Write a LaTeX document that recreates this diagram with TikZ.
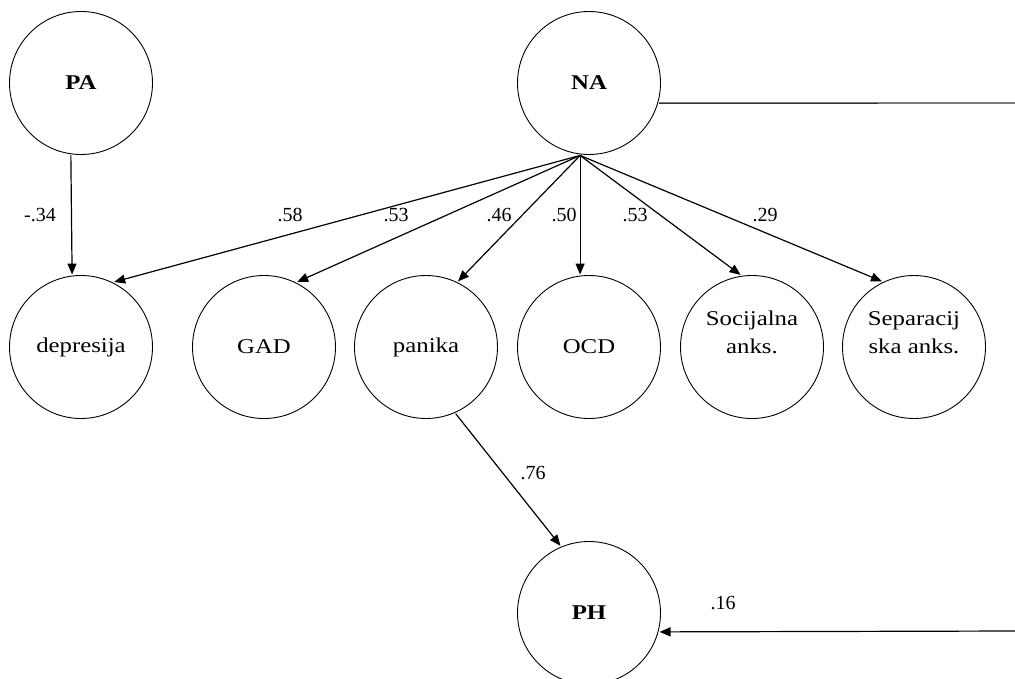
\documentclass[tikz,border=0pt]{standalone}
\usepackage{fontspec}
\setmainfont{Liberation Serif}
\usetikzlibrary{arrows.meta,calc}
\newcommand{\stretchtxt}[1]{\scalebox{1.18}[1]{#1}}
\begin{document}
\begin{tikzpicture}[x=1pt,y=-1pt,
  lat/.style={circle,draw,line width=0.9pt,minimum size=143pt,inner sep=0pt,outer sep=1.5pt,
    font=\fontsize{21}{28}\selectfont},
  txtlab/.style={font=\fontsize{21}{28}\selectfont,align=center,inner sep=0pt},
  arr/.style={line width=1.2pt,-{Triangle[length=11pt,width=9pt]}},
  plainline/.style={line width=1.4pt,draw=black!80},
  coef/.style={font=\fontsize{20}{24}\selectfont,inner sep=0pt}]
\useasboundingbox (0,0) rectangle (1015,678);

% latent / observed circles
\node[lat] (PA) at (81,83) {\stretchtxt{\textbf{PA}}};
\node[lat] (NA) at (589,83) {\stretchtxt{\textbf{NA}}};
\node[lat] (dep) at (81,347) {\stretchtxt{depresija}};
\node[lat] (gad) at (264,347) {\stretchtxt{GAD}};
\node[lat] (pan) at (426,347) {\stretchtxt{panika}};
\node[lat] (ocd) at (589,347) {\stretchtxt{OCD}};
\node[lat,label={[txtlab,name=soctxt,yshift=13pt]center:\stretchtxt{\begin{tabular}{@{}c@{}}Socijalna\\anks.\end{tabular}}}] (soc) at (752,347) {};
\node[lat,label={[txtlab,name=septxt,yshift=13pt]center:\stretchtxt{\begin{tabular}{@{}c@{}}Separacij\\ska anks.\end{tabular}}}] (sep) at (914,347) {};
\node[lat] (PH) at (589,613) {\stretchtxt{\textbf{PH}}};

% free ends at the right edge
\coordinate (edgeA) at (1015,103);
\coordinate (edgeB) at (1015,631);

% paths
\draw[arr] (PA.-98) -- (dep.97);
\draw[arr] (NA.-97) -- (dep.63);
\draw[arr] (NA.-97) -- (gad.63);
\draw[arr] (NA.-97) -- (pan.64);
\draw[arr] (NA.-97) -- (ocd.97);
\draw[arr] (NA.-97) -- (soc.99);
\draw[arr] (NA.-97) -- (sep.116);
\draw[arr] (pan.-66) -- (PH.113);
\draw[plainline] (NA.-16) -- (edgeA);
\draw[arr] (edgeB) -- (PH.-15);

% coefficients
\node[coef] (c1) at (40,215) {-.34};
\node[coef] (c2) at (290,215) {.58};
\node[coef] (c3) at (396,215) {.53};
\node[coef] (c4) at (499,215) {.46};
\node[coef] (c5) at (564,215) {.50};
\node[coef] (c6) at (635,215) {.53};
\node[coef] (c7) at (765,215) {.29};
\node[coef] (c8) at (533,473) {.76};
\node[coef] (c9) at (723,603) {.16};
\end{tikzpicture}
\end{document}
